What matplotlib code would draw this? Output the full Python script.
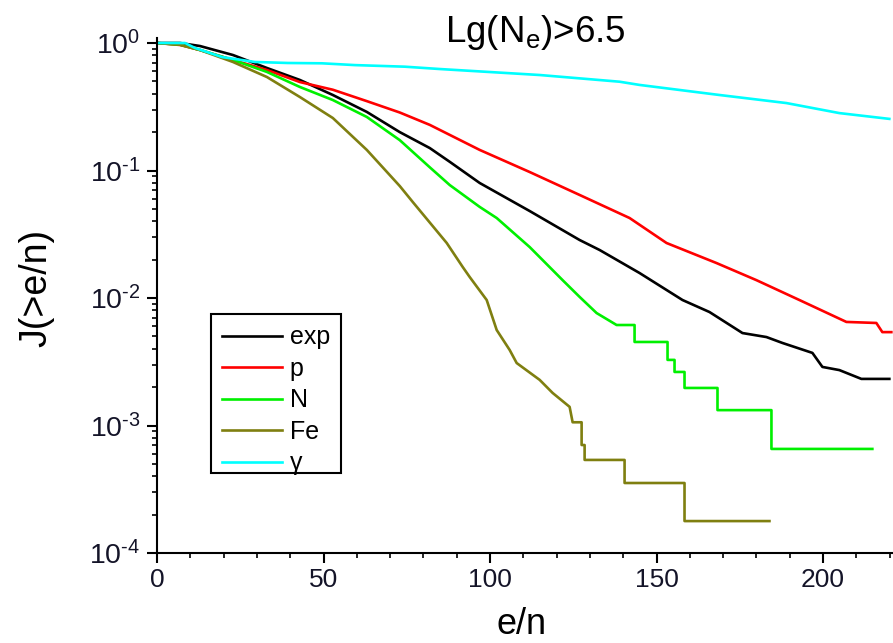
import numpy as np
import matplotlib
matplotlib.use("Agg")
import matplotlib.pyplot as plt
from matplotlib.patches import Rectangle
from matplotlib.ticker import LogLocator, MultipleLocator, FixedLocator

plt.rcParams['font.family'] = ['Liberation Sans', 'DejaVu Sans']
plt.rcParams['mathtext.fontset'] = 'custom'
plt.rcParams['mathtext.rm'] = 'Liberation Sans'
plt.rcParams['mathtext.it'] = 'Liberation Sans'

# Integral spectra J(>e/n): smooth body of each curve
x_exp = [0, 6.9, 12.9, 22.8, 33, 42.9, 52.8, 63, 72.9, 81.9, 87.9, 96.9, 111.9,
         126.9, 132.9, 144.9, 157.8, 165.9, 175.8, 183, 187.8, 196.8, 199.8,
         204.9, 211.5, 219.9]
J_exp = [1, 1, 0.947, 0.805, 0.637, 0.513, 0.391, 0.288, 0.2, 0.15, 0.117,
         0.0798, 0.0481, 0.0285, 0.0238, 0.0157, 0.00964, 0.00776, 0.00531,
         0.00494, 0.00444, 0.00371, 0.00288, 0.00272, 0.00232, 0.00232]

x_p = [0, 6.9, 12.9, 22.8, 33, 42.9, 52.8, 63, 72.9, 81.9, 96.9, 111.9, 126.9,
       141.9, 153, 168, 180, 192.9, 207, 216, 217.8, 220.5]
J_p = [1, 0.965, 0.881, 0.736, 0.614, 0.494, 0.43, 0.35, 0.285, 0.228, 0.145,
       0.0973, 0.0643, 0.0424, 0.027, 0.0188, 0.0138, 0.00964, 0.00649,
       0.00637, 0.0054, 0.0054]

x_N = [0, 6.9, 12.9, 22.8, 33, 42.9, 52.8, 63, 72.9, 81.9, 87.9, 96.9, 102,
       111.9, 121.8, 126.9, 132, 138]
J_N = [1, 0.97, 0.881, 0.736, 0.593, 0.452, 0.357, 0.263, 0.173, 0.106, 0.0769,
       0.0518, 0.0424, 0.0251, 0.0138, 0.0102, 0.00762, 0.00614]
# low-statistics tail: step edges and the level after each edge
xs_N = [143.4, 153.3, 155.4, 158.4, 168.3, 184.5]
Js_N = [0.00452, 0.00327, 0.00263, 0.00197, 0.00132, 0.000655]
xend_N = 214.8

x_Fe = [0, 6.9, 12.9, 22.8, 33, 42.9, 52.8, 63, 72.9, 76.8, 87, 91.8,
        93.9, 99, 102, 105.9, 108, 114.9, 118.8, 123.9, 124.8]
J_Fe = [1, 0.97, 0.881, 0.71, 0.541, 0.377, 0.258, 0.145, 0.0755, 0.0566,
        0.027, 0.0175, 0.0146, 0.00964, 0.00561, 0.00391, 0.00309,
        0.00228, 0.0018, 0.0014, 0.00106]
xs_Fe = [127.5, 128.4, 140.4, 158.4]
Js_Fe = [0.000703, 0.000537, 0.000354, 0.000178]
xend_Fe = 183.9

x_g = [0, 5.4, 8.4, 11.4, 19.5, 29.4, 39.3, 49.5, 59.4, 74.4, 84.9, 114.9,
       138.9, 144.9, 168.9, 189, 204.9, 219.9]
J_g = [1, 1, 1, 0.914, 0.776, 0.71, 0.697, 0.693, 0.671, 0.652, 0.625, 0.561,
       0.497, 0.469, 0.391, 0.338, 0.282, 0.254]

series_labels = ['exp', 'p', 'N', 'Fe', 'γ']
y_tick_values = [1e-4, 1e-3, 1e-2, 1e-1, 1e0]
y_tick_labels = [r'$10^{\text{-4}}$', r'$10^{\text{-3}}$', r'$10^{\text{-2}}$',
                 r'$10^{\text{-1}}$', r'$10^{0}$']


def with_tail(xb, yb, edges, levels, xend):
    """Append a staircase tail to a smooth curve."""
    xs, ys = list(xb), list(yb)
    for e, lv in zip(edges, levels):
        xs += [e, e]
        ys += [ys[-1], lv]
    xs.append(xend)
    ys.append(ys[-1])
    return xs, ys


W, H = 893, 643
fig = plt.figure(figsize=(W / 100, H / 100), dpi=100)
ax = fig.add_axes([157 / W, 90 / H, 1 - 157 / W, (553 - 38) / H])

lw = 1.9
ax.plot(x_exp, J_exp, color='black', lw=lw, label=series_labels[0])
ax.plot(x_p, J_p, color='#ff0000', lw=lw, label=series_labels[1])
ax.plot(*with_tail(x_N, J_N, xs_N, Js_N, xend_N), color='#00f000', lw=lw,
        label=series_labels[2])
ax.plot(*with_tail(x_Fe, J_Fe, xs_Fe, Js_Fe, xend_Fe), color='#7f7f10', lw=lw,
        label=series_labels[3])
ax.plot(x_g, J_g, color='#00ffff', lw=lw, label=series_labels[4])

ax.set_yscale('log')
ax.set_xlim(0, 221)
ax.set_ylim(1e-4, 10 ** (5 / 127.5))

ax.spines['top'].set_visible(False)
ax.spines['right'].set_visible(False)
ax.spines['left'].set_linewidth(1.5)
ax.spines['bottom'].set_linewidth(1.5)

ax.xaxis.set_major_locator(MultipleLocator(50))
ax.xaxis.set_minor_locator(MultipleLocator(10))
ax.yaxis.set_major_locator(FixedLocator(y_tick_values))
ax.yaxis.set_minor_locator(LogLocator(base=10, subs=np.arange(2, 10), numticks=20))
ax.set_yticklabels(y_tick_labels)

ax.tick_params(which='major', direction='out', length=7, width=1.5,
               labelsize=19, colors='black')
ax.tick_params(which='minor', direction='out', length=3.5, width=1.2)
ax.tick_params(axis='x', pad=4)
ax.tick_params(axis='y', pad=5, labelsize=20.5)
for t in ax.get_yticklabels() + ax.get_xticklabels():
    t.set_color('#141428')

fig.text(36 / W, 1 - 288 / H, 'J(>e/n)', rotation=90, fontsize=27,
         ha='center', va='center')
fig.text(522 / W, 1 - 634 / H, 'e/n', fontsize=26, ha='center', va='baseline')
fig.text(445 / W, 1 - 42 / H, r'Lg(N$_{\rm e}$)>6.5', fontsize=26.5,
         ha='left', va='baseline')

leg = ax.legend(loc='upper left', bbox_to_anchor=(211 / W, 1 - 314 / H),
                bbox_transform=fig.transFigure, borderaxespad=0, fontsize=18,
                handlelength=2.4, handletextpad=0.3, labelspacing=0.3,
                borderpad=0.45, frameon=False)
fig.patches.append(Rectangle((211 / W, 1 - 473 / H), 130 / W, 159 / H,
                             transform=fig.transFigure, fill=False,
                             edgecolor='black', lw=1.5, zorder=5))

fig.savefig('out.png', dpi=100)
